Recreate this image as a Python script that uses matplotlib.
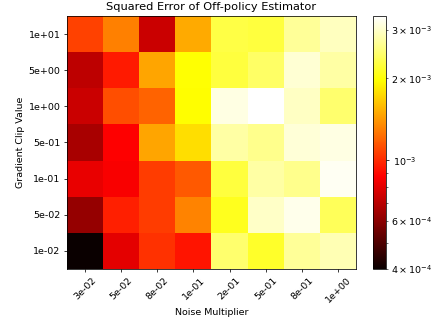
import numpy as np
import matplotlib
matplotlib.use("Agg")
import matplotlib.pyplot as plt
from matplotlib.colors import LogNorm

# noise multipliers (columns) and clip values (rows, top to bottom)
noise_labels = ["3e-02", "5e-02", "8e-02", "1e-01", "2e-01", "5e-01", "8e-01", "1e+00"]
clip_labels = ["1e+01", "5e+00", "1e+00", "5e-01", "1e-01", "5e-02", "1e-02"]

# squared error, one list per clip value
err_clip_1e1 = [1.07e-3, 1.31e-3, 7.4e-4, 1.50e-3, 2.28e-3, 2.24e-3, 2.71e-3, 2.94e-3]
err_clip_5e0 = [7.1e-4, 9.5e-4, 1.48e-3, 1.97e-3, 2.24e-3, 2.43e-3, 3.07e-3, 2.77e-3]
err_clip_1e0 = [7.4e-4, 1.12e-3, 1.20e-3, 1.95e-3, 3.17e-3, 3.38e-3, 2.97e-3, 2.48e-3]
err_clip_5e_1 = [6.65e-4, 8.7e-4, 1.48e-3, 1.77e-3, 2.77e-3, 2.65e-3, 3.10e-3, 3.17e-3]
err_clip_1e_1 = [8.16e-4, 8.6e-4, 1.06e-3, 1.16e-3, 2.24e-3, 2.77e-3, 2.65e-3, 3.27e-3]
err_clip_5e_2 = [6.24e-4, 9.6e-4, 1.06e-3, 1.32e-3, 2.10e-3, 3.00e-3, 3.24e-3, 2.38e-3]
err_clip_1e_2 = [4.0e-4, 8.05e-4, 1.02e-3, 9.3e-4, 2.48e-3, 2.14e-3, 2.71e-3, 2.88e-3]

errors = np.array([
    err_clip_1e1,
    err_clip_5e0,
    err_clip_1e0,
    err_clip_5e_1,
    err_clip_1e_1,
    err_clip_5e_2,
    err_clip_1e_2,
])

# everything scaled by ~0.68 (a default-size figure shrunk down)
s = 0.68
plt.rcParams.update({
    "font.size": 10 * s,
    "axes.linewidth": 0.8 * s,
    "axes.labelpad": 4 * s,
    "axes.titlepad": 6 * s,
    "xtick.major.size": 3.5 * s,
    "ytick.major.size": 3.5 * s,
    "xtick.minor.size": 2 * s,
    "ytick.minor.size": 2 * s,
    "xtick.major.width": 0.8 * s,
    "ytick.major.width": 0.8 * s,
    "xtick.minor.width": 0.6 * s,
    "ytick.minor.width": 0.6 * s,
    "xtick.major.pad": 3.5 * s,
    "ytick.major.pad": 3.5 * s,
    "xtick.minor.pad": 3.4 * s,
    "ytick.minor.pad": 3.4 * s,
})

fig = plt.figure(figsize=(4.35, 3.21), dpi=100)
ax = fig.add_axes([67 / 435, 52 / 321, 289 / 435, 253 / 321])
cax = fig.add_axes([373 / 435, 52 / 321, 13 / 435, 253 / 321])

im = ax.imshow(errors, cmap="hot", norm=LogNorm(), aspect="auto")
ax.set_xticks(range(len(noise_labels)))
ax.set_xticklabels(noise_labels, rotation=45)
ax.set_yticks(range(len(clip_labels)))
ax.set_yticklabels(clip_labels)
ax.set_xlabel("Noise Multiplier")
ax.set_ylabel("Gradient Clip Value")
ax.set_title("Squared Error of Off-policy Estimator", fontsize=12 * s)

fig.colorbar(im, cax=cax)

fig.savefig("out.png", dpi=100)
